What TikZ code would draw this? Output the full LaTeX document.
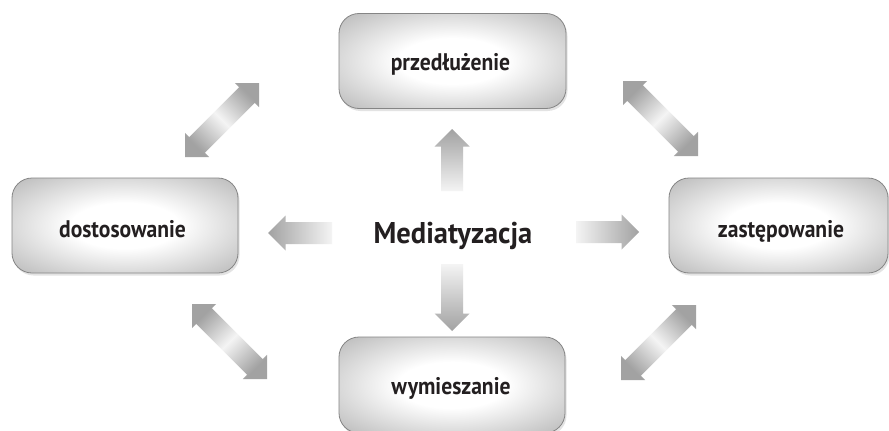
\documentclass[tikz,border=0pt]{standalone}
\usepackage{fontspec}
\usepackage{graphicx}
\usetikzlibrary{calc,shadows}
\newfontfamily\condfont{PT Sans}
\newcommand\squeezed[2]{\scalebox{#1}[1]{#2}}
\definecolor{txt}{HTML}{231F20}
\definecolor{edge}{HTML}{858585}
\definecolor{adark}{HTML}{A2A2A2}
\definecolor{alight}{HTML}{F4F4F4}
\pgfdeclareradialshading{boxshade}{\pgfpoint{0bp}{0bp}}{color(0bp)=(white); color(12bp)=(white); color(50bp)=(black!44); color(72bp)=(black!52)}
\newcommand\sarrow[3]{%
  \coordinate (h#3) at ($(#3)!17.5pt!(#2)$);
  \path[#1] ($(#2)!11pt!90:(#3)$) -- ($(h#3)!11pt!-90:(#2)$) -- ($(h#3)!17.5pt!-90:(#2)$) -- (#3)
    -- ($(h#3)!17.5pt!90:(#2)$) -- ($(h#3)!11pt!90:(#2)$) -- ($(#2)!11pt!-90:(#3)$) -- cycle;}
\newcommand\darrow[3]{%
  \coordinate (h#2) at ($(#2)!17pt!(#3)$);
  \coordinate (h#3) at ($(#3)!17pt!(#2)$);
  \path[#1] (#2) -- ($(h#2)!17pt!90:(#3)$) -- ($(h#2)!11pt!90:(#3)$) -- ($(h#3)!11pt!-90:(#2)$)
    -- ($(h#3)!17pt!-90:(#2)$) -- (#3) -- ($(h#3)!17pt!90:(#2)$) -- ($(h#3)!11pt!90:(#2)$)
    -- ($(h#2)!11pt!-90:(#3)$) -- ($(h#2)!17pt!-90:(#3)$) -- cycle;}
\begin{document}
\begin{tikzpicture}[x=1pt,y=-1pt,
  box/.style={draw=edge, line width=0.8pt, rounded corners=20pt, shade, shading=boxshade,
    minimum height=95pt, inner sep=0pt,
    drop shadow={opacity=0.22, shadow xshift=1.5pt, shadow yshift=-2.5pt}},
  lbl/.style={anchor=base, inner sep=0pt, text=txt, font=\condfont\bfseries\fontsize{24}{28}\selectfont},
  mainlbl/.style={anchor=base, inner sep=0pt, text=txt, font=\condfont\bfseries\fontsize{30}{34}\selectfont},
  upa/.style={top color=adark, bottom color=alight},
  downa/.style={top color=alight, bottom color=adark},
  lefta/.style={left color=adark, right color=alight},
  righta/.style={left color=alight, right color=adark},
  dneswa/.style={top color=adark, bottom color=adark, middle color=alight, shading angle=-45},
  dnwsea/.style={top color=adark, bottom color=adark, middle color=alight, shading angle=45}]
\useasboundingbox (0,0) rectangle (889,431);
\fill[white] (0,0) rectangle (889,431);
% boxes
\node[box, minimum width=227pt] (top) at (452.5,61) {};
\node[box, minimum width=226pt] (left) at (125,225.5) {};
\node[box, minimum width=219pt] (right) at (778.5,225.5) {};
\node[box, minimum width=226pt, minimum height=96pt] (bottom) at (452,385) {};
% labels
\node[lbl] (ttop) at (450.5,70) {\squeezed{0.9}{przedłużenie}};
\node[lbl] (tleft) at (122.5,237) {\squeezed{0.9}{dostosowanie}};
\node[lbl] (tright) at (781,237) {\squeezed{0.9}{zastępowanie}};
\node[lbl] (tbottom) at (451,394) {\squeezed{0.9}{wymieszanie}};
\node[mainlbl] (center) at (453,243) {\squeezed{0.95}{Mediatyzacja}};
% arrow end points
\coordinate (upT) at (452,191);   \coordinate (upP) at (452,129);
\coordinate (dnT) at (452,264);   \coordinate (dnP) at (452,331);
\coordinate (lfT) at (332,233);   \coordinate (lfP) at (268,233);
\coordinate (rtT) at (576,232);   \coordinate (rtP) at (639,232);
\coordinate (ulA) at (185,157);   \coordinate (ulB) at (259,83);
\coordinate (urA) at (623,81);    \coordinate (urB) at (698,156);
\coordinate (llA) at (192,304);   \coordinate (llB) at (267,379);
\coordinate (lrA) at (621,380);   \coordinate (lrB) at (696,305);
% arrows
\sarrow{upa}{upT}{upP}
\sarrow{downa}{dnT}{dnP}
\sarrow{lefta}{lfT}{lfP}
\sarrow{righta}{rtT}{rtP}
\darrow{dneswa}{ulA}{ulB}
\darrow{dnwsea}{urA}{urB}
\darrow{dnwsea}{llA}{llB}
\darrow{dneswa}{lrA}{lrB}
\end{tikzpicture}
\end{document}
